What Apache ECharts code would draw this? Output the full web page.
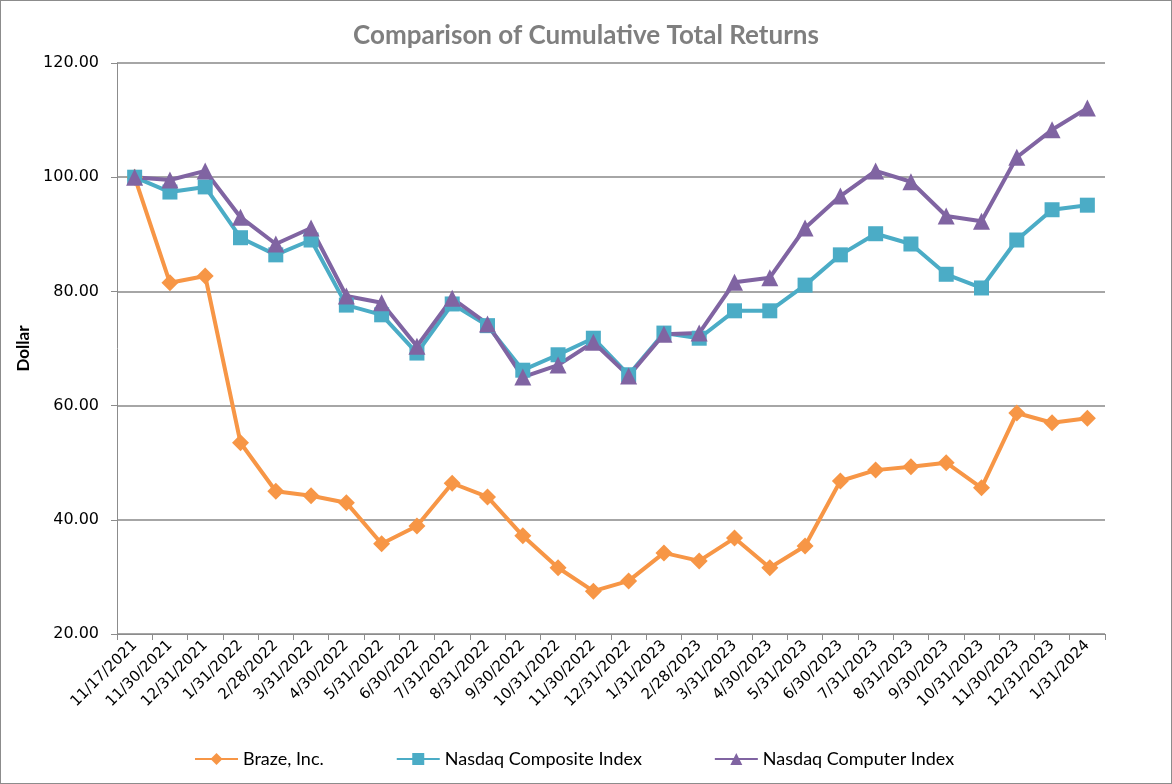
<!DOCTYPE html>
<html>
<head>
<meta charset="utf-8">
<script src="https://cdn.jsdelivr.net/npm/echarts@6/dist/echarts.min.js"></script>
<style>
html,body{margin:0;padding:0;background:#fff;}
#c{position:absolute;left:0;top:0;width:1170px;height:782px;border:1px solid #8c8c8c;}
</style>
</head>
<body>
<div id="c"></div>
<script>
const categories = ["11/17/2021","11/30/2021","12/31/2021","1/31/2022","2/28/2022","3/31/2022","4/30/2022","5/31/2022","6/30/2022","7/31/2022","8/31/2022","9/30/2022","10/31/2022","11/30/2022","12/31/2022","1/31/2023","2/28/2023","3/31/2023","4/30/2023","5/31/2023","6/30/2023","7/31/2023","8/31/2023","9/30/2023","10/31/2023","11/30/2023","12/31/2023","1/31/2024"];
const braze = [100.0,81.5,82.7,53.5,45.0,44.2,43.0,35.8,38.9,46.4,44.0,37.2,31.6,27.5,29.3,34.2,32.8,36.8,31.6,35.4,46.8,48.7,49.3,50.0,45.6,58.7,57.0,57.8];
const composite = [100.0,97.4,98.3,89.4,86.4,89.0,77.6,75.9,69.2,77.8,74.0,66.2,68.9,71.8,65.4,72.7,71.8,76.6,76.6,81.1,86.4,90.1,88.3,83.0,80.6,89.0,94.3,95.1];
const computer = [100.0,99.5,101.1,93.0,88.3,91.1,79.2,78.0,70.4,78.8,74.3,65.0,67.1,71.1,65.2,72.5,72.7,81.6,82.4,91.1,96.7,101.1,99.2,93.2,92.3,103.5,108.3,112.1];
const seriesNames = ["Braze, Inc.","Nasdaq Composite Index","Nasdaq Computer Index"];

const chart = echarts.init(document.getElementById('c'));
const hum = "Lato,'Open Sans','Noto Sans',sans-serif";
const dv = "'DejaVu Sans',Verdana,sans-serif";
function mk(name, data, color, symbol, size){
  return {name:name,type:'line',data:data,symbol:symbol,symbolSize:size,
    lineStyle:{color:color,width:4},itemStyle:{color:color},
    emphasis:{disabled:true},animation:false};
}
chart.setOption({
  animation:false,
  title:{text:'Comparison of Cumulative Total Returns',left:'center',top:17,
    textStyle:{fontFamily:hum,fontSize:26,fontWeight:'bold',color:'#7f7f7f'}},
  grid:{left:116,right:66,top:62,bottom:149,containLabel:false},
  legend:{bottom:10,left:188,itemGap:72,itemWidth:43,itemHeight:15,
    textStyle:{fontFamily:hum,fontSize:18,color:'#000'},
    data:seriesNames},
  xAxis:{type:'category',data:categories,boundaryGap:true,
    axisLine:{lineStyle:{color:'#8c8c8c',width:1}},
    axisTick:{show:true,alignWithLabel:false,length:6,lineStyle:{color:'#8c8c8c'}},
    axisLabel:{interval:0,rotate:45,fontFamily:dv,fontSize:15,color:'#000',margin:9}},
  yAxis:{type:'value',min:20,max:120,interval:20,name:'Dollar',nameLocation:'middle',nameGap:83,
    nameTextStyle:{fontFamily:hum,fontSize:17,fontWeight:'bold',color:'#000'},
    axisLine:{show:true,lineStyle:{color:'#8c8c8c'}},
    axisTick:{show:true,length:6,lineStyle:{color:'#8c8c8c'}},
    splitLine:{lineStyle:{color:'#a6a6a6',width:2}},
    axisLabel:{fontFamily:dv,fontSize:16,color:'#000',margin:18,
      formatter:v=>v.toFixed(2)}},
  series:[
    mk(seriesNames[0],braze,'#F79646','diamond',17),
    mk(seriesNames[1],composite,'#4BACC6','rect',15),
    mk(seriesNames[2],computer,'#8064A2','triangle',17)
  ]
});
</script>
</body>
</html>
